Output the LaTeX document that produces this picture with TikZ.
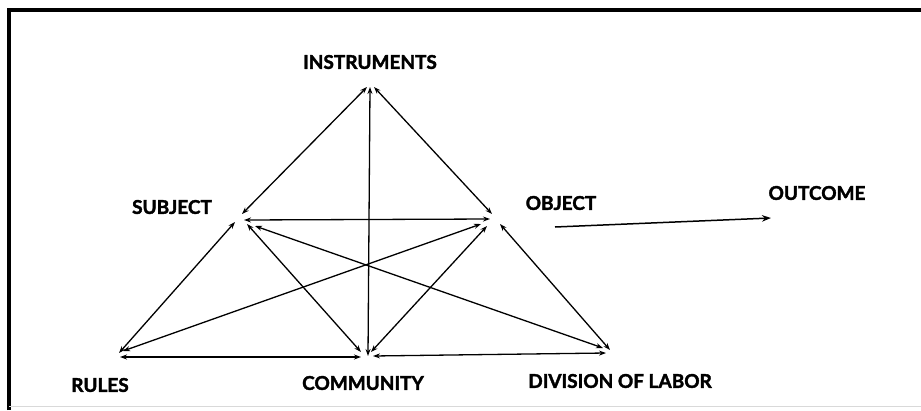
\documentclass[tikz,border=0pt]{standalone}
\usepackage{fontspec}
\setmainfont{Lato}[BoldFeatures={FakeBold=2}]
\usetikzlibrary{arrows.meta}
\begin{document}
\begin{tikzpicture}[x=1pt,y=-1pt,
  lbl/.style={font=\bfseries\fontsize{19}{20}\selectfont, inner sep=0pt},
  link/.style={line width=1.3pt, {Stealth[length=7pt,width=5pt]}-{Stealth[length=7pt,width=5pt]}},
  oneway/.style={line width=1.5pt, -{Stealth[length=9pt,width=6.5pt]}}]
\useasboundingbox (0,0) rectangle (921,410);
\fill[white] (0,0) rectangle (921,410);
% frame
\draw[line width=3.5pt] (9,410) -- (9,10) -- (921,10);
\draw[line width=0.6pt, black!15] (9,406.5) -- (921,406.5);
% labels
\node[lbl] (instr) at (370,62) {INSTRUMENTS};
\node[lbl] (subj) at (172,207) {SUBJECT};
\node[lbl] (obj) at (561,203) {OBJECT};
\node[lbl] (outc) at (817,193) {OUTCOME};
\node[lbl] (rules) at (100,385) {RULES};
\node[lbl] (comm) at (363,383) {COMMUNITY};
\node[lbl] (div) at (620,381) {DIVISION OF LABOR};
% end points
\coordinate (iS) at (367,87);
\coordinate (iO) at (374,87);
\coordinate (iC) at (370,87);
\coordinate (sI) at (242,214);
\coordinate (sO) at (244,220);
\coordinate (sR) at (235,222);
\coordinate (sC) at (247,224);
\coordinate (sD) at (255,226);
\coordinate (oI) at (492,214);
\coordinate (oS) at (490,219);
\coordinate (oR) at (481,224);
\coordinate (oC) at (487,226);
\coordinate (oD) at (500,224);
\coordinate (rS) at (119,353);
\coordinate (rO) at (123,351);
\coordinate (rC) at (120,357);
\coordinate (cI) at (368,356);
\coordinate (cS) at (361,352);
\coordinate (cO) at (371,352);
\coordinate (cR) at (361,357);
\coordinate (cD) at (373,356);
\coordinate (dS) at (603,348);
\coordinate (dO) at (610,350);
\coordinate (dC) at (606,353);
\coordinate (oOut) at (555,227);
\coordinate (outIn) at (771,218);
% connectors
\draw[link] (iS) -- (sI);
\draw[link] (iO) -- (oI);
\draw[link] (iC) -- (cI);
\draw[link] (sO) -- (oS);
\draw[link] (sR) -- (rS);
\draw[link] (sC) -- (cS);
\draw[link] (sD) -- (dS);
\draw[link] (oR) -- (rO);
\draw[link] (oC) -- (cO);
\draw[link] (oD) -- (dO);
\draw[link] (rC) -- (cR);
\draw[link] (cD) -- (dC);
\draw[oneway] (oOut) -- (outIn);
\end{tikzpicture}
\end{document}
